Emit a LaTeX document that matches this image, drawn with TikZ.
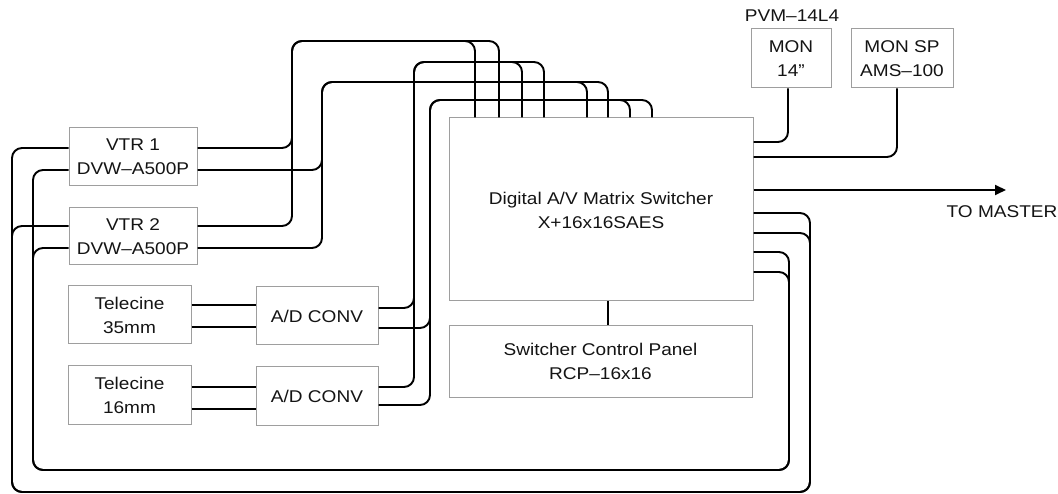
\documentclass[tikz,border=0pt]{standalone}
\usepackage{fontspec}
\setmainfont{Liberation Sans}[FakeStretch=1.12]
\usetikzlibrary{arrows.meta}
\begin{document}
\begin{tikzpicture}[x=1pt,y=-1pt,
  box/.style={draw=black!38, line width=1pt, fill=white, inner sep=0pt, align=center, text=black!92, font=\fontsize{17}{24}\selectfont},
  wire/.style={line width=1.9pt, rounded corners=10pt, line join=round},
  lbl/.style={inner sep=0pt, text=black!92, font=\fontsize{17}{24}\selectfont}]
\useasboundingbox (0,0) rectangle (1058,494);

% boxes
\node[box, minimum width=128pt, minimum height=58pt] (vtr1) at (133,157) {VTR 1\\DVW–A500P};
\node[box, minimum width=128pt, minimum height=57pt] (vtr2) at (133,236.5) {VTR 2\\DVW–A500P};
\node[box, minimum width=123pt, minimum height=58pt] (tc35) at (129.5,315) {Telecine\\35mm};
\node[box, minimum width=122pt, minimum height=58pt] (ad1) at (317,316) {A/D CONV};
\node[box, minimum width=123pt, minimum height=58pt] (tc16) at (129.5,395) {Telecine\\16mm};
\node[box, minimum width=122pt, minimum height=58pt] (ad2) at (317,396) {A/D CONV};
\node[box, minimum width=304pt, minimum height=183pt, text depth=0pt] (sw) at (601,209.5) {};
\node[lbl, align=center] (swtext) at (601,210) {Digital A/V Matrix Switcher\\X+16x16SAES};
\node[box, minimum width=303pt, minimum height=71pt] (rcp) at (600.5,361.5) {Switcher Control Panel\\RCP–16x16};
\node[box, minimum width=80pt, minimum height=59pt] (mon14) at (791,58.5) {MON\\14”};
\node[box, minimum width=102pt, minimum height=59pt] (monsp) at (902,58.5) {MON SP\\AMS–100};
\node[lbl] (pvm) at (792,16) {PVM–14L4};
\node[lbl] (master) at (1002,212) {TO MASTER};
\coordinate (mastertip) at (1006,190);

% telecine to A/D
\draw[wire] (tc35.east |- 0,305) -- (ad1.west |- 0,305);
\draw[wire] (tc35.east |- 0,327) -- (ad1.west |- 0,327);
\draw[wire] (tc16.east |- 0,387) -- (ad2.west |- 0,387);
\draw[wire] (tc16.east |- 0,409) -- (ad2.west |- 0,409);

% VTR outputs to switcher (top buses)
\draw[wire] (vtr1.east |- 0,148) -- (292,148) -- (292,41) -- (475,41) -- (sw.north -| 475,0);
\draw[wire] (vtr2.east |- 0,226) -- (292,226) -- (292,41) -- (499,41) -- (sw.north -| 499,0);
\draw[wire] (vtr1.east |- 0,170) -- (322,170) -- (322,82) -- (587,82) -- (sw.north -| 587,0);
\draw[wire] (vtr2.east |- 0,248) -- (322,248) -- (322,82) -- (608,82) -- (sw.north -| 608,0);

% A/D outputs to switcher
\draw[wire] (ad1.east |- 0,308) -- (414,308) -- (414,62) -- (522,62) -- (sw.north -| 522,0);
\draw[wire] (ad2.east |- 0,387) -- (414,387) -- (414,62) -- (544,62) -- (sw.north -| 544,0);
\draw[wire] (ad1.east |- 0,328) -- (430,328) -- (430,100) -- (630,100) -- (sw.north -| 630,0);
\draw[wire] (ad2.east |- 0,405) -- (430,405) -- (430,100) -- (652,100) -- (sw.north -| 652,0);

% switcher outputs back to VTR inputs
\draw[wire] (sw.east |- 0,213) -- (810,213) -- (810,492) -- (12,492) -- (12,148) -- (vtr1.west |- 0,148);
\draw[wire] (sw.east |- 0,233) -- (810,233) -- (810,492) -- (12,492) -- (12,226) -- (vtr2.west |- 0,226);
\draw[wire] (sw.east |- 0,252) -- (789,252) -- (789,470) -- (33,470) -- (33,170) -- (vtr1.west |- 0,170);
\draw[wire] (sw.east |- 0,272) -- (789,272) -- (789,470) -- (33,470) -- (33,248) -- (vtr2.west |- 0,248);

% monitors
\draw[wire] (sw.east |- 0,142) -- (788,142) -- (mon14.south -| 788,0);
\draw[wire] (sw.east |- 0,157) -- (897,157) -- (monsp.south -| 897,0);

% to master
\draw[line width=1.9pt, -{Triangle[length=11pt,width=10pt]}] (sw.east |- 0,190) -- (mastertip);

% control panel
\draw[line width=1.9pt] (sw.south -| 608,0) -- (rcp.north -| 608,0);
\end{tikzpicture}
\end{document}
